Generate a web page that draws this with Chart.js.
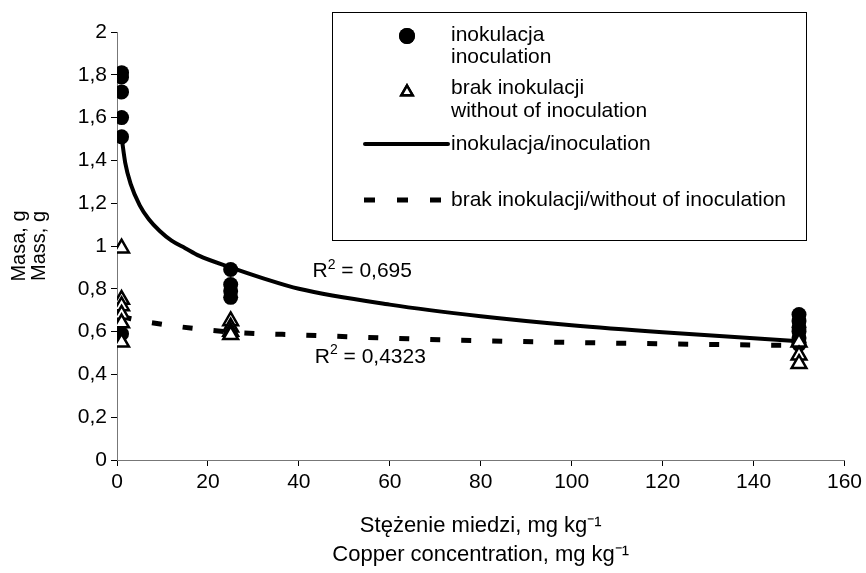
<!DOCTYPE html>
<html>
<head>
<meta charset="utf-8">
<script src="https://cdn.jsdelivr.net/npm/chart.js@4.4.1/dist/chart.umd.min.js"></script>
<style>
  html, body { margin: 0; padding: 0; background: #fff; }
  #wrap { width: 866px; height: 573px; }
</style>
</head>
<body>
<div id="wrap"><canvas id="wykres" width="866" height="573"></canvas></div>
<script>
// dawki miedzi (mg/kg)
const dawki = [1, 25, 150];

// masa roslin - inokulacja
const inokulacja = [
    [1.81, 1.79, 1.72, 1.60, 1.51, 0.59],
    [0.89, 0.82, 0.79, 0.76],
    [0.68, 0.65, 0.62, 0.60, 0.57, 0.55, 0.54]
];
// masa roslin - brak inokulacji
const brakInokulacji = [
    [0.99, 0.75, 0.72, 0.68, 0.64, 0.55],
    [0.65, 0.62, 0.60, 0.585],
    [0.55, 0.49, 0.45]
];

// linie trendu
const trendInokX = [1, 1.8, 3, 5, 7, 9.4, 12, 15, 18, 25, 32, 40, 60, 80, 100, 120, 150];
const trendInokY = [1.51, 1.39, 1.29, 1.19, 1.125, 1.07, 1.025, 0.99, 0.955, 0.90, 0.85, 0.80, 0.726, 0.672, 0.63, 0.597, 0.555];
const trendBrakX = [1, 6.6, 25, 41, 75, 141, 150];
const trendBrakY = [0.67, 0.645, 0.598, 0.584, 0.56, 0.537, 0.535];

const xTicks = [0, 20, 40, 60, 80, 100, 120, 140, 160];
const yTicks = [0, 0.2, 0.4, 0.6, 0.8, 1, 1.2, 1.4, 1.6, 1.8, 2];

const r2Teksty = [
    { wartosc: '0,695', x: 43, y: 0.88 },
    { wartosc: '0,4323', x: 43.5, y: 0.48 }
];

const FONT = '"Liberation Sans", Arial, sans-serif';
const ROZMIAR = 21;

function punkty(grupy) {
    return dawki.flatMap((d, i) => grupy[i].map(v => ({ x: d, y: v })));
}
function linia(xs, ys) {
    return xs.map((x, i) => ({ x: x, y: ys[i] }));
}
function fmt(v) {
    return String(Math.round(v * 10) / 10).replace('.', ',');
}

// R^2 przy liniach trendu
const r2Plugin = {
    id: 'r2',
    afterDatasetsDraw(chart) {
        const ctx = chart.ctx;
        const sx = chart.scales.x, sy = chart.scales.y;
        ctx.save();
        ctx.fillStyle = '#000';
        ctx.textBaseline = 'middle';
        ctx.textAlign = 'left';
        r2Teksty.forEach(t => {
            let px = sx.getPixelForValue(t.x);
            const py = sy.getPixelForValue(t.y);
            ctx.font = ROZMIAR + 'px ' + FONT;
            ctx.fillText('R', px, py);
            px += ctx.measureText('R').width;
            ctx.font = Math.round(ROZMIAR * 0.65) + 'px ' + FONT;
            ctx.fillText('2', px, py - 7);
            px += ctx.measureText('2').width;
            ctx.font = ROZMIAR + 'px ' + FONT;
            ctx.fillText(' = ' + t.wartosc, px, py);
        });
        ctx.restore();
    }
};

// legenda w ramce jak w Excelu
const legendaPlugin = {
    id: 'legenda',
    afterDraw(chart) {
        const ctx = chart.ctx;
        ctx.save();
        ctx.strokeStyle = '#000';
        ctx.lineWidth = 1;
        ctx.strokeRect(332.5, 12.5, 474, 228);

        ctx.font = ROZMIAR + 'px ' + FONT;
        ctx.fillStyle = '#000';
        ctx.textBaseline = 'middle';
        const tx = 451;

        Chart.helpers.drawPoint(ctx, { pointStyle: 'circle', radius: 8, borderWidth: 0 }, 407, 36);
        ctx.fill();
        ctx.fillText('inokulacja', tx, 35);
        ctx.fillText('inoculation', tx, 57);

        ctx.fillStyle = '#fff';
        ctx.strokeStyle = '#000';
        ctx.lineWidth = 2.5;
        Chart.helpers.drawPoint(ctx, { pointStyle: 'triangle', radius: 6.5, borderWidth: 2.5 }, 407, 92);
        ctx.fill();
        ctx.stroke();
        ctx.fillStyle = '#000';
        ctx.fillText('brak inokulacji', tx, 88);
        ctx.fillText('without of inoculation', tx, 111);

        ctx.lineWidth = 4;
        ctx.lineCap = 'round';
        ctx.beginPath();
        ctx.moveTo(365, 144);
        ctx.lineTo(448, 144);
        ctx.stroke();
        ctx.fillText('inokulacja/inoculation', tx, 144);

        ctx.lineCap = 'butt';
        ctx.lineWidth = 5;
        ctx.setLineDash([11, 22]);
        ctx.beginPath();
        ctx.moveTo(364, 200);
        ctx.lineTo(441, 200);
        ctx.stroke();
        ctx.setLineDash([]);
        ctx.fillText('brak inokulacji/without of inoculation', tx, 200);
        ctx.restore();
    }
};

const config = {
    type: 'scatter',
    data: {
        datasets: [{
            label: 'inokulacja',
            data: punkty(inokulacja),
            pointStyle: 'circle',
            pointRadius: 7.5,
            backgroundColor: '#000',
            borderColor: '#000',
            borderWidth: 0,
            order: 1
        }, {
            label: 'brak inokulacji',
            data: punkty(brakInokulacji),
            pointStyle: 'triangle',
            pointRadius: 8.5,
            backgroundColor: '#fff',
            borderColor: '#000',
            borderWidth: 2.5,
            order: 0
        }, {
            label: 'inokulacja/inoculation',
            data: linia(trendInokX, trendInokY),
            showLine: true,
            borderColor: '#000',
            borderWidth: 4,
            pointRadius: 0,
            cubicInterpolationMode: 'monotone',
            order: 2
        }, {
            label: 'brak inokulacji/without of inoculation',
            data: linia(trendBrakX, trendBrakY),
            showLine: true,
            borderColor: '#000',
            borderWidth: 5,
            borderDash: [10, 21],
            pointRadius: 0,
            cubicInterpolationMode: 'monotone',
            order: 3
        }]
    },
    options: {
        responsive: false,
        animation: false,
        layout: { padding: { top: 32, right: 18, left: 0, bottom: 0 } },
        plugins: {
            legend: { display: false },
            tooltip: { enabled: false }
        },
        scales: {
            x: {
                type: 'linear',
                min: 0,
                max: 160,
                afterBuildTicks: s => { s.ticks = xTicks.map(v => ({ value: v })); },
                afterFit: s => { s.height = 113; },
                ticks: { color: '#000', font: { family: FONT, size: ROZMIAR }, padding: 4 },
                grid: { display: true, drawOnChartArea: false, tickLength: 6, color: '#000' },
                border: { display: true, color: '#777', width: 1 },
                title: {
                    display: true,
                    text: ['Stężenie miedzi, mg kg⁻¹', 'Copper concentration, mg kg⁻¹'],
                    color: '#000',
                    font: { family: FONT, size: 22, lineHeight: 1.3 },
                    padding: { top: 0, bottom: 4 }
                }
            },
            y: {
                type: 'linear',
                min: 0,
                max: 2,
                afterBuildTicks: s => { s.ticks = yTicks.map(v => ({ value: v })); },
                afterFit: s => { s.width = 117; },
                ticks: { color: '#000', font: { family: FONT, size: ROZMIAR }, padding: 4, callback: v => fmt(v) },
                grid: { display: true, drawOnChartArea: false, tickLength: 6, color: '#000' },
                border: { display: true, color: '#777', width: 1 },
                title: {
                    display: true,
                    text: ['Masa, g', 'Mass, g'],
                    color: '#000',
                    font: { family: FONT, size: 20, lineHeight: 1.0 },
                    padding: { top: 9, bottom: 0 }
                }
            }
        }
    },
    plugins: [r2Plugin, legendaPlugin]
};

const wykres = new Chart(document.getElementById('wykres'), config);
</script>
</body>
</html>
